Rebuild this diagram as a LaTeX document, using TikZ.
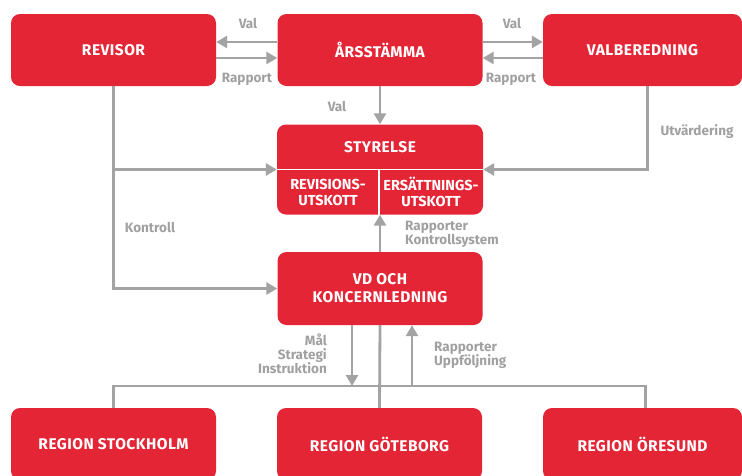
\documentclass[tikz,border=0pt]{standalone}
\usepackage{fontspec}
\setmainfont{Fira Sans}
\newfontfamily\boxfont[LetterSpace=3]{Fira Sans}
\usetikzlibrary{positioning,arrows.meta}
\definecolor{boxred}{HTML}{E42535}
\definecolor{linegray}{HTML}{A3A3A3}
\definecolor{labelgray}{HTML}{A0A0A0}
\begin{document}
\begin{tikzpicture}[x=1pt,y=-1pt,
    box/.style={rectangle, rounded corners=9pt, fill=boxred, text=white,
      font=\boxfont\bfseries\fontsize{15.5}{18}\selectfont, minimum width=205pt,
      minimum height=72pt, align=center, inner sep=0pt},
    subbox/.style={text=white, font=\bfseries\fontsize{14.5}{16}\selectfont, align=center},
    line/.style={draw=linegray, line width=2.8pt},
    conn/.style={line, -{Triangle[length=11pt,width=12pt]}},
    lbl/.style={text=labelgray, font=\bfseries\fontsize{13.5}{14}\selectfont, inner sep=0pt}]
  \useasboundingbox (0,0) rectangle (742,475);
  % top row
  \node[box] (revisor) at (113.5,50) {REVISOR};
  \node[box] (stamma) at (380,50) {ÅRSSTÄMMA};
  \node[box, minimum width=199pt] (valb) at (642.5,50) {VALBEREDNING};
  % board with committees
  \node[box, minimum width=206pt, minimum height=90pt] (styrelse) at (380,169.5) {};
  \node[box, fill=none, minimum width=0pt, minimum height=0pt] (styrtext) at (380,147) {STYRELSE};
  \node[subbox] (revutsk) at (328,192) {REVISIONS-\\UTSKOTT};
  \node[subbox] (ersutsk) at (431,192) {ERSÄTTNINGS-\\UTSKOTT};
  \draw[white, line width=1.5pt] (styrelse.west) -- (styrelse.east);
  \draw[white, line width=1.5pt] ([xshift=-1pt]styrelse.center) -- ([xshift=-1pt]styrelse.south);
  % management
  \node[box, minimum height=73pt] (vd) at (380,288.5) {VD OCH\\KONCERNLEDNING};
  % regions
  \node[box] (stockholm) at (113.5,444) {REGION STOCKHOLM};
  \node[box] (goteborg) at (379.5,444) {REGION GÖTEBORG};
  \node[box, minimum width=199pt] (oresund) at (642.5,444) {REGION ÖRESUND};
  \coordinate (bus) at (380,386);

  % connectors
  \draw[conn] ([yshift=8pt]stamma.west) -- ([yshift=8pt]revisor.east);
  \draw[conn] ([yshift=-8pt]revisor.east) -- ([yshift=-8pt]stamma.west);
  \draw[conn] ([yshift=8pt]stamma.east) -- ([yshift=8pt]valb.west);
  \draw[conn] ([yshift=-8pt]valb.west) -- ([yshift=-8pt]stamma.east);
  \draw[conn] (stamma.south) -- (styrelse.north);
  \draw[conn] ([xshift=5pt]valb.south) |- (styrelse.east);
  \draw[conn] (revisor.south) |- (vd.west);
  \draw[conn] (revisor.south |- styrelse.west) -- (styrelse.west);
  \draw[conn] (vd.north) -- (styrelse.south);
  \draw[conn] ([xshift=-28pt]vd.south) -- ([xshift=-28pt]vd.south |- bus);
  \draw[conn] ([xshift=32pt]vd.south |- bus) -- ([xshift=32pt]vd.south);
  \draw[line] (stockholm.north) -- (stockholm.north |- bus)
    -- ([xshift=3pt]oresund.north |- bus) -- ([xshift=3pt]oresund.north);
  \draw[line] (vd.south) -- (goteborg.north);

  % labels
  \node[lbl] (valv) at (248,23) {Val};
  \node[lbl] (rapv) at (247,79) {Rapport};
  \node[lbl] (valh) at (512,23) {Val};
  \node[lbl] (raph) at (511,79) {Rapport};
  \node[lbl] (valn) at (337,106) {Val};
  \node[lbl] (utv) at (697,132) {Utvärdering};
  \node[lbl] (kontroll) at (150,227) {Kontroll};
  \node[lbl, anchor=west, align=left] (kontrsys) at (405,234) {Rapporter\\Kontrollsystem};
  \node[lbl, anchor=east, align=right] (mal) at (327,354) {Mål\\Strategi\\Instruktion};
  \node[lbl, anchor=west, align=left] (uppf) at (434,355) {Rapporter\\Uppföljning};
\end{tikzpicture}
\end{document}
